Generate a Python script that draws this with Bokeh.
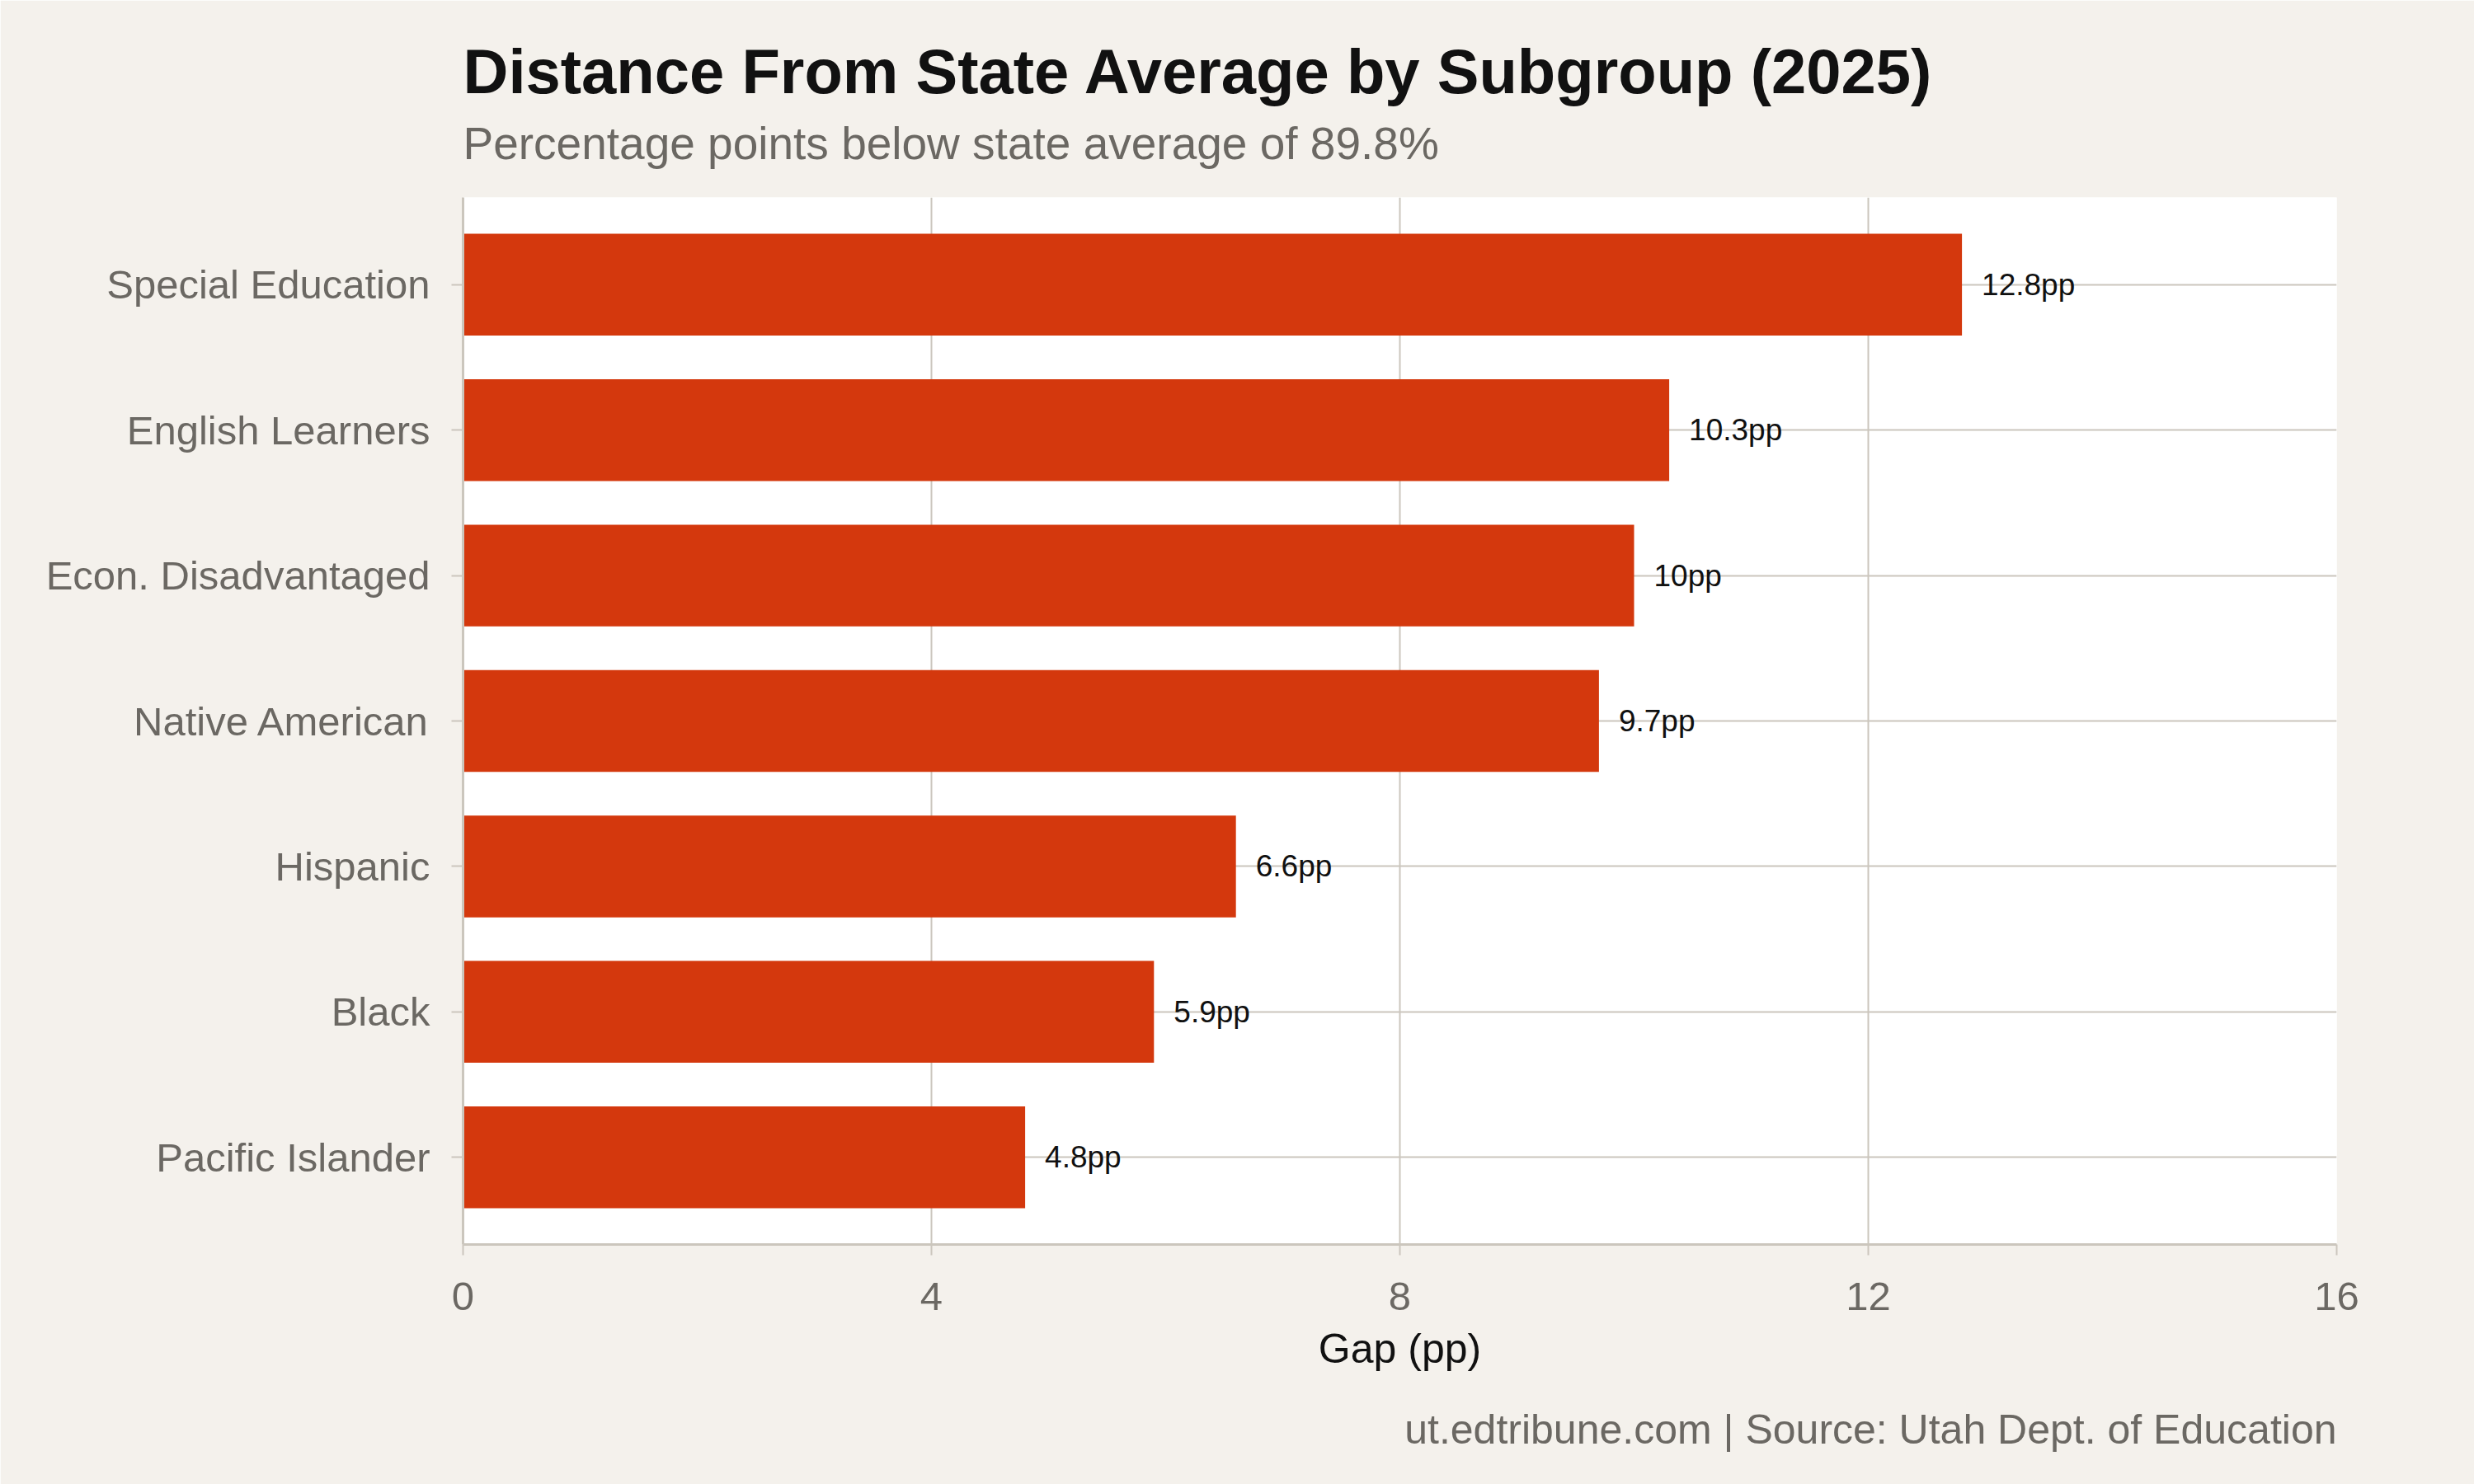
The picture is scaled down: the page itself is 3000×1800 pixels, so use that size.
from bokeh.plotting import figure
from bokeh.models import ColumnDataSource, Range1d, FactorRange, FixedTicker, Title
from bokeh.core.properties import value
from bokeh.embed import file_html
from bokeh.resources import INLINE

# Subgroups, top to bottom, and their gap below the state average (pp)
subgroups = ["Special Education", "English Learners", "Econ. Disadvantaged",
             "Native American", "Hispanic", "Black", "Pacific Islander"]
gaps = [12.8, 10.3, 10.0, 9.7, 6.6, 5.9, 4.8]
x_ticks = [0, 4, 8, 12, 16]

TITLE = "Distance From State Average by Subgroup (2025)"
SUBTITLE = "Percentage points below state average of 89.8%"
CAPTION = "ut.edtribune.com | Source: Utah Dept. of Education"

FONT = "Liberation Sans"
BG = "#f4f1ec"
BAR = "#d4380d"
GRID = "#cbc6bd"
GRAY_TEXT = "#6b6863"

labels = [f"{g:g}pp" for g in gaps]
source = ColumnDataSource(dict(group=subgroups, gap=gaps, label=labels))

# first factor is drawn at the bottom, so reverse the order
y_range = FactorRange(factors=list(reversed(subgroups)),
                      range_padding=0.1, range_padding_units="absolute")

p = figure(width=3000, height=1800, y_range=y_range, x_range=Range1d(0, 16),
           output_backend="svg", toolbar_location=None,
           min_border_left=561, min_border_right=167,
           min_border_top=239, min_border_bottom=291)

p.background_fill_color = "white"
p.border_fill_color = BG
p.outline_line_color = None

p.hbar(y="group", right="gap", left=0, height=0.7, source=source,
       fill_color=BAR, line_color=None)

p.text(x="gap", y="group", text="label", source=source,
       x_offset=24, text_baseline="middle", text_align="left",
       text_font=value(FONT), text_font_size="37px", text_color="#111111")

# axes
p.xaxis.ticker = FixedTicker(ticks=x_ticks)
p.xaxis.axis_label = "Gap (pp)"
for ax in (p.xaxis, p.yaxis):
    ax.axis_line_color = GRID
    ax.axis_line_width = 3
    ax.major_tick_line_color = GRID
    ax.major_tick_line_width = 2
    ax.major_tick_in = 0
    ax.minor_tick_line_color = None
    ax.major_label_text_font = FONT
    ax.major_label_text_font_size = "49px"
    ax.major_label_text_color = GRAY_TEXT

p.xaxis.major_tick_out = 13
p.xaxis.major_label_standoff = 33
p.xaxis.axis_label_text_font = FONT
p.xaxis.axis_label_text_font_size = "50px"
p.xaxis.axis_label_text_font_style = "normal"
p.xaxis.axis_label_text_color = "#111111"
p.xaxis.axis_label_standoff = 16

p.yaxis.major_tick_out = 14
p.yaxis.major_label_standoff = 26

p.xgrid.grid_line_color = GRID
p.xgrid.grid_line_width = 2
p.ygrid.grid_line_color = GRID
p.ygrid.grid_line_width = 2

# main title on top, subtitle between it and the plot frame
p.title.text = TITLE
p.title.align = "left"
p.title.text_font = FONT
p.title.text_font_size = "76px"
p.title.text_font_style = "bold"
p.title.text_color = "#111111"
p.title.standoff = -46

p.add_layout(Title(text=SUBTITLE, align="left", text_font=FONT,
                   text_font_size="55px", text_font_style="normal",
                   text_color=GRAY_TEXT, standoff=70), "above")

p.add_layout(Title(text=CAPTION, align="right", text_font=FONT,
                   text_font_size="50px", text_font_style="normal",
                   text_color=GRAY_TEXT, standoff=74), "below")

open("out.html", "w").write(file_html(p, INLINE))
